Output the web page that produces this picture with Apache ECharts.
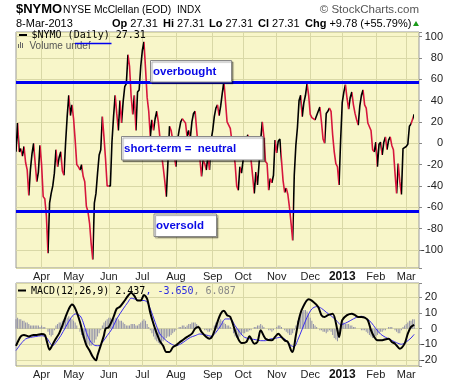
<!DOCTYPE html>
<html><head><meta charset="utf-8">
<script src="https://cdn.jsdelivr.net/npm/echarts@6/dist/echarts.min.js"></script>
<style>html,body{margin:0;padding:0;background:#fff}#c{width:460px;height:383px}</style>
</head><body><div id="c"></div>
<script>
// ---- categories: NYSE trading days ----
const startDate = '2012-03-09';
const endDate = '2013-03-08';
const holidays = ['2012-04-06','2012-05-28','2012-07-04','2012-09-03','2012-10-29','2012-10-30','2012-11-22','2012-12-25','2013-01-01','2013-01-21','2013-02-18'];
const padDays = ['2013-03-11','2013-03-12','2013-03-13'];
const monthNames = ['Jan','Feb','Mar','Apr','May','Jun','Jul','Aug','Sep','Oct','Nov','Dec'];

// ---- $NYMO daily close ----
const nymo = [
 -8, 19, -8, -5, -12, -3, -18, -25, -49, -25,
 -10, 0, -19, -36, -27, -2, -20, -50, -52, -68,
 -103, -56, -47, -40, -28, -6, -22, -13, -8, -26,
 -30, 0, 25, 45, 26, 36, 23, 3, -20, -22,
 -25, -20, -31, -36, -59, -64, -75, -94, -109, -56,
 -47, -28, -11, -6, 25, 6, -15, -40, -41, -40,
 1, 25, 45, 28, 12, 40, 19, 39, 53, 56,
 83, 72, 44, 27, 45, 12, 48, 50, 72, 87,
 95, 70, 43, 30, 6, 22, 12, 23, 30, 20,
 5, -10, -22, -35, -50, -18, 16, 12, 3, -12,
 -22, 3, 12, 20, 23, 21, 19, 6, 12, 5,
 20, 28, 30, 12, -5, -15, -31, -16, -19, -25,
 -12, -25, 3, 12, 25, 33, 36, 26, 35, 47,
 58, 57, 20, 17, 14, 2, -8, -19, -40, -44,
 -22, -28, -16, -15, 4, 8, -5, -16, -31, -47,
 -27, -39, -19, 3, 20, 6, -17, -19, -44, -33,
 -37, -30, 3, -9, 2, 4, 5, -35, -46, -42,
 -48, -60, -75, -91, -30, -2, 15, 40, 45, 25,
 38, 45, 56, 45, 27, 24, 23, 22, 23, 30,
 34, 20, 4, 0, 28, 30, 33, 30, 8, -8,
 -19, -22, -39, 3, 38, 48, 55, 42, 32, 43,
 48, 36, 28, 22, 17, 35, 45, 50, 36, 33,
 19, 18, 12, -6, -8, 1, -22, -1, 1, -11,
 1, 6, -6, 3, 6, -2, -6, -28, -47, -19,
 -36, -48, -5, -5, -3, -1, 16, 18, 17.53, 27.31
];

// ---- MACD(12,26,9) lines, sampled [trading-day index, value] ----
const macdLine = [
 [0,-11],[3,-5],[5,-4],[8,-5],[11,-4],[13,-4],[16,-3.5],[18,-4],[19,-7],[21,-13.5],[22,-12],[24,-8],[27,-3],[29,2],[31,7.5],[33,12.5],[35,15.4],[37,13],[40,4.3],[42,-4],[44,-10.5],[46,-14],[48,-18],[50,-20.3],[51,-17],[53,-10.7],[55,-4.3],[56,0],[58,1],[61,7.5],[63,12.8],[65,14],[68,18],[70,21],[72,23],[74,21],[76,18],[78,18],[80,21.5],[82,19],[84,10],[86,3],[88,-3],[90,-8],[92,-11],[94,-15],[96,-15],[98,-12],[100,-10.7],[102,-9],[104,-7.5],[107,-5.3],[110,-3.2],[112,0],[114,1],[116,-2],[119,-5.3],[121,-6.4],[123,-4.3],[126,4.3],[128,9.6],[130,11.5],[132,8.6],[134,7.5],[138,-4.3],[141,-9.2],[144,-8.5],[146,-4.9],[149,-9.6],[151,-8.5],[153,-1.1],[156,-6.4],[160,-7.5],[162,-5.3],[164,-3.2],[166,-5.3],[168,-7.5],[170,-8.5],[172,-13.9],[173,-15],[175,-4.3],[177,6.4],[179,12.8],[183,18.8],[186,17.1],[189,13.9],[191,8.6],[193,7.5],[195,8.6],[198,9.6],[201,-1.1],[202,-5.3],[204,5.4],[207,8.6],[210,9.6],[212,8.6],[214,7.5],[216,7.5],[218,7.1],[220,5.4],[222,-1.1],[224,-5.3],[226,-7.5],[228,-7.5],[233,-6.4],[235,-8.5],[237,-9.6],[240,-12.8],[243,-9.6],[245,-3.2],[247,1.1],[249,2.437]
];
const signalLine = [
 [0,-14],[3,-9.8],[6,-6.6],[9,-5.6],[12,-5.1],[16,-4.5],[19,-5.6],[21,-8.8],[23,-10.9],[25,-8.8],[28,-4.5],[31,0.9],[34,6.2],[37,9.4],[40,8.3],[42,4.1],[44,-2.4],[47,-8.8],[50,-10.9],[52,-10.9],[54,-8.8],[57,-4.5],[60,-0.2],[63,6.2],[67,12.6],[70,16.9],[72,19.5],[74,19],[77,18],[80,18],[82,16.9],[84,12.6],[87,4.1],[90,-3.4],[94,-7.7],[97,-9.8],[100,-10.9],[103,-9.8],[106,-7.7],[109,-5.6],[112,-4.5],[115,-3.4],[119,-4.1],[122,-4.9],[125,-2.4],[128,1.9],[131,6.2],[134,6.2],[137,1.9],[140,-2.4],[143,-5.6],[147,-6.6],[150,-7.1],[153,-7.7],[156,-7.7],[159,-6.6],[162,-6.2],[165,-5.6],[168,-6.6],[172,-10.9],[174,-11.5],[176,-7.7],[179,-0.2],[182,7.3],[185,12.6],[188,14.1],[191,13],[194,10.5],[197,8.3],[201,4.5],[203,2.5],[206,3.5],[209,5.1],[213,7.3],[216,7.9],[219,6.6],[222,4.1],[225,0],[228,-3.5],[231,-5.5],[235,-7.5],[238,-9],[241,-10],[244,-8.5],[247,-6],[249,-3.65]
];
const histogram = [
 6, 7, 6, 6, 5, 5, 4, 4, 3, 2,
 2, 2, 2, 2, 2, 1, 2, 1, 1, 0,
 -2, -4, -5, -4, -1, 2, 3, 4, 4, 5,
 6, 7, 7, 8, 7, 6, 5, 4, 2, 0,
 -2, -4, -6, -8, -9, -10, -11, -11, -10, -9,
 -7, -5, -3, -1, 2, 4, 5, 6, 7, 7,
 6, 6, 7, 7, 6, 5, 5, 4, 3, 2,
 2, 2, 3, 3, 3, 2, 2, 3, 4, 5,
 6, 5, 3, 1, -1, -3, -5, -7, -8, -9,
 -10, -9, -8, -7, -6, -5, -5, -4, -3, -2,
 -1, 0, 1, 1, 2, 2, 1, 2, 3, 3,
 4, 4, 4, 3, 2, 1, 0, 0, -1, -1,
 -2, -2, -1, 0, 2, 4, 5, 5, 6, 5,
 4, 3, 2, 2, 1, 0, -3, -5, -6, -6,
 -5, -4, -3, -3, -2, -2, -1, -1, 0, 1,
 1, 2, 2, 3, 2, 1, 0, 0, -1, -1,
 -2, -1, 0, 1, 2, 2, 1, 0, -1, -2,
 -3, -4, -4, -3, -1, 2, 5, 7, 9, 11,
 12, 12, 11, 9, 7, 5, 3, 2, 1, 0,
 -1, -1, -2, -2, -3, -2, -1, -2, -4, -6,
 -7, -8, -6, 2, 4, 4, 3, 3, 3, 2,
 2, 1, 1, 0, 0, 0, -1, -1, -1, -2,
 -3, -4, -5, -6, -6, -5, -4, -3, -2, -2,
 -1, -1, 0, 1, 1, 1, 0, -1, -2, -3,
 -3, -1, 1, 2, 3, 4, 5, 5, 6, 6.087
];
const overbought = 57;
const oversold = -64;
const mainRange = [-116.9, 104.3];
const macdRange = [-23.9, 29.2];

function tradingDays(a, b, skip) {
  const out = [];
  const d = new Date(a + 'T00:00:00Z');
  const end = new Date(b + 'T00:00:00Z');
  while (d <= end) {
    const s = d.toISOString().slice(0, 10);
    const w = d.getUTCDay();
    if (w !== 0 && w !== 6 && skip.indexOf(s) < 0) out.push(s);
    d.setUTCDate(d.getUTCDate() + 1);
  }
  return out;
}
const dates = tradingDays(startDate, endDate, holidays).concat(padDays);

const SANS = '"Liberation Sans", Arial, sans-serif';
const MONO = '"DejaVu Sans Mono", monospace';
const BG = '#f8f6c9', GRIDC = '#d9d8a6', RED = '#d6163c', BLUE = '#0000f0';
const isMonthStart = (i) => i > 0 && i < dates.length && dates[i].slice(5, 7) !== dates[i - 1].slice(5, 7);
const monthLabel = (v) => { const m = +v.slice(5, 7); return m === 1 ? '{y|' + v.slice(0, 4) + '}' : monthNames[m - 1]; };

const pieces = [];
for (let i = 1; i < nymo.length; i++) {
  pieces.push({ min: i - 1, max: i, color: nymo[i] >= nymo[i - 1] ? '#000000' : RED });
}

function xAxisFor(g) {
  return {
    type: 'category', gridIndex: g, data: dates, boundaryGap: false,
    axisLine: { show: false }, axisTick: { show: false },
    axisLabel: { interval: (i) => isMonthStart(i), formatter: monthLabel, fontSize: 11, fontFamily: SANS, color: '#222', margin: 3,
      rich: { y: { fontWeight: 'bold', fontSize: 12, fontFamily: SANS, color: '#111' } } },
    splitLine: { show: true, interval: (i) => isMonthStart(i), lineStyle: { color: GRIDC, width: 1 } }
  };
}
const Z = 100;
function txt(x, y, text, font, fill, extra) {
  return { type: 'text', z: Z, x: x, y: y, style: Object.assign({ text: text, font: font, fill: fill, textVerticalAlign: 'middle', verticalAlign: 'middle' }, extra || {}) };
}
function box(x, y, w, h) {
  return { type: 'rect', z: Z, shape: { x: x, y: y, width: w, height: h },
    style: { fill: '#fff', stroke: '#888', lineWidth: 1, shadowColor: 'rgba(0,0,0,0.35)', shadowOffsetX: 1.5, shadowOffsetY: 1.5, shadowBlur: 1 } };
}
const bold11 = { b: { font: 'bold 11px ' + SANS, fill: '#000' } };

const chart = echarts.init(document.getElementById('c'));
chart.setOption({
  animation: false,
  backgroundColor: '#fff',
  grid: [
    { left: 16, right: 41, top: 32, height: 236, show: true, backgroundColor: BG, borderColor: '#999', borderWidth: 1 },
    { left: 16, right: 41, top: 283, height: 83, show: true, backgroundColor: BG, borderColor: '#999', borderWidth: 1 }
  ],
  xAxis: [xAxisFor(0), xAxisFor(1)],
  yAxis: [
    { type: 'value', gridIndex: 0, position: 'right', min: mainRange[0], max: mainRange[1], minInterval: 20, maxInterval: 20, splitNumber: 11,
      axisLine: { show: false }, axisTick: { show: true, length: 3, lineStyle: { color: '#888' } },
      axisLabel: { fontSize: 11, fontFamily: SANS, color: '#222', align: 'right', margin: 24,
        formatter: (v) => (Math.abs(v % 20) < 1e-6 ? String(v) : '') },
      splitLine: { lineStyle: { color: GRIDC, width: 1 } } },
    { type: 'value', gridIndex: 1, position: 'right', min: macdRange[0], max: macdRange[1], minInterval: 10, maxInterval: 10, splitNumber: 5,
      axisLine: { show: false }, axisTick: { show: true, length: 3, lineStyle: { color: '#888' } },
      axisLabel: { fontSize: 11, fontFamily: SANS, color: '#222', align: 'right', margin: 18,
        formatter: (v) => (Math.abs(v % 10) < 1e-6 ? String(v) : '') },
      splitLine: { lineStyle: { color: GRIDC, width: 1 } } }
  ],
  visualMap: [{ type: 'piecewise', show: false, seriesIndex: 0, dimension: 0, pieces: pieces }],
  series: [
    { type: 'line', xAxisIndex: 0, yAxisIndex: 0, data: nymo, showSymbol: false, symbol: 'none',
      lineStyle: { width: 1.6 }, z: 3,
      markLine: { silent: true, symbol: ['none', 'none'], label: { show: false },
        lineStyle: { color: BLUE, width: 3, type: 'solid' },
        data: [{ yAxis: overbought }, { yAxis: oversold }] } },
    { type: 'bar', xAxisIndex: 1, yAxisIndex: 1, data: histogram, barWidth: 1, itemStyle: { color: '#9090a8' }, z: 2 },
    { type: 'line', xAxisIndex: 1, yAxisIndex: 1, data: signalLine, showSymbol: false, symbol: 'none', smooth: 0.3,
      lineStyle: { color: '#3a2cf0', width: 1 }, z: 3 },
    { type: 'line', xAxisIndex: 1, yAxisIndex: 1, data: macdLine, showSymbol: false, symbol: 'none', smooth: 0.3,
      lineStyle: { color: '#000', width: 2 }, z: 4 }
  ],
  graphic: [
    txt(16, 9.5, '$NYMO', 'bold 13px ' + SANS, '#000'),
    txt(63, 10, 'NYSE McClellan (EOD)', '10.3px ' + SANS, '#000'),
    txt(177, 10.5, 'INDX', '10px ' + SANS, '#000'),
    txt(419, 10, '\u00a9 StockCharts.com', '11.5px ' + SANS, '#555', { textAlign: 'right', align: 'right' }),
    txt(16, 23.5, '8-Mar-2013', '11px ' + SANS, '#000'),
    txt(112, 23.5, '{b|Op} 27.31', '11px ' + SANS, '#000', { rich: bold11 }),
    txt(163, 23.5, '{b|Hi} 27.31', '11px ' + SANS, '#000', { rich: bold11 }),
    txt(209, 23.5, '{b|Lo} 27.31', '11px ' + SANS, '#000', { rich: bold11 }),
    txt(258, 23.5, '{b|Cl} 27.31', '11px ' + SANS, '#000', { rich: bold11 }),
    txt(305, 23.5, '{b|Chg} +9.78 (+55.79%)', '11px ' + SANS, '#000', { rich: bold11 }),
    { type: 'polygon', z: Z, shape: { points: [[413, 26], [419, 26], [416, 21]] }, style: { fill: '#1a9a1a' } },
    // legend inside main panel
    { type: 'line', z: Z, shape: { x1: 19, y1: 35, x2: 27, y2: 35 }, style: { stroke: '#000', lineWidth: 2 } },
    txt(31.5, 35.5, '$NYMO (Daily) 27.31', '10px ' + MONO, '#000'),
    { type: 'rect', z: Z, shape: { x: 18, y: 44, width: 1, height: 4 }, style: { fill: '#666' } },
    { type: 'rect', z: Z, shape: { x: 20, y: 42, width: 1, height: 6 }, style: { fill: '#666' } },
    { type: 'rect', z: Z, shape: { x: 22, y: 43, width: 1, height: 5 }, style: { fill: '#666' } },
    txt(29.5, 46, 'Volume undef', '10px ' + SANS, '#555'),
    { type: 'line', z: Z, shape: { x1: 75, y1: 43.5, x2: 111.5, y2: 43.5 }, style: { stroke: BLUE, lineWidth: 1.6 } },
    // annotations
    box(150.5, 60.5, 81, 21.5),
    txt(153, 71.5, 'overbought', 'bold 11.5px ' + SANS, '#0a0ae6'),
    box(121.5, 136.5, 141.5, 23.5),
    txt(124, 148.5, 'short-term =  neutral', 'bold 11.5px ' + SANS, '#0a0ae6'),
    box(154, 214, 62.5, 22.5),
    txt(156, 225.5, 'oversold', 'bold 11.5px ' + SANS, '#0a0ae6'),
    // MACD legend
    { type: 'line', z: Z, shape: { x1: 18, y1: 290.5, x2: 26, y2: 290.5 }, style: { stroke: '#000', lineWidth: 2 } },
    txt(31, 291, '{k|MACD(12,26,9) 2.437}{b|, -3.650}{g|, 6.087}', '10px ' + MONO, '#000',
      { rich: { k: { font: '10px ' + MONO, fill: '#000' }, b: { font: '10px ' + MONO, fill: '#2a2ae0' }, g: { font: '10px ' + MONO, fill: '#888' } } })
  ]
});
</script>
</body></html>
